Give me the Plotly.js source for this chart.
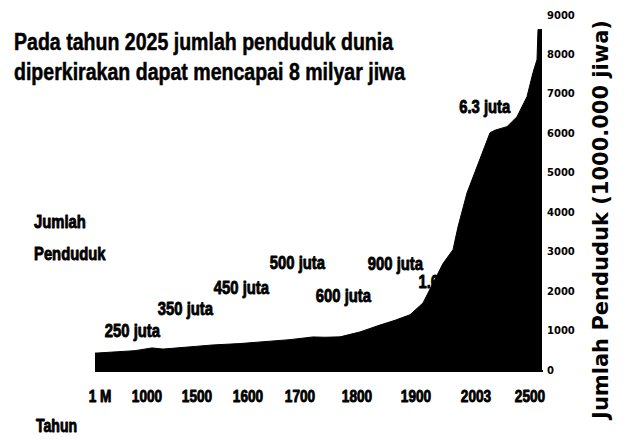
<!DOCTYPE html>
<html>
<head>
<meta charset="utf-8">
<script src="https://cdn.plot.ly/plotly-3.0.1.min.js"></script>
<style>html,body{margin:0;padding:0;background:#fff;}#chart{width:626px;height:440px;}</style>
</head>
<body>
<div id="chart"></div>
<script>
// Position along the (non-linear) time axis, in plot units
var tickPos = [5, 52, 102, 153, 205, 262, 321, 381, 435];
var tickLabels = ["1 M", "1000", "1500", "1600", "1700", "1800", "1900", "2003", "2500"];

// Population curve (millions)
var curveX = [0, 2, 40, 57, 68, 90, 118, 145, 168, 195, 218, 230, 245, 265, 285, 300, 315, 328, 338, 348, 358, 363, 372, 385, 395, 400, 412, 422, 432, 438, 442, 443, 447];
var curveY = [430, 430, 490, 560, 530, 580, 635, 670, 710, 770, 838, 830, 840, 965, 1140, 1260, 1400, 1700, 2200, 2700, 3050, 3630, 4490, 5330, 6015, 6080, 6170, 6420, 6930, 7540, 7870, 8630, 8630];

var yTicks = [0, 1000, 2000, 3000, 4000, 5000, 6000, 7000, 8000, 9000];

var labelTexts = ["250 juta", "350 juta", "450 juta", "500 juta", "600 juta", "900 juta", "6.3 juta"];
var labelX = [37, 90, 146, 202, 248, 300, 390];
var labelY = [990, 1570, 2090, 2725, 1890, 2700, 6680];

var hiddenLabel = ["1.6 juta"];
var hiddenX = [349];
var hiddenY = [2190];

var titleLines = ["Pada tahun 2025 jumlah penduduk dunia", "diperkirakan dapat mencapai 8 milyar jiwa"];
var sideLabels = ["Jumlah", "Penduduk", "Tahun"];
var yTitle = "Jumlah Penduduk (1000.000 jiwa)";

var sans = "Liberation Sans, Arial, sans-serif";
var labelFont = {family: sans, size: 19, weight: 700, color: "#000"};

var traces = [
  {
    x: hiddenX, y: hiddenY, text: hiddenLabel, mode: "text", type: "scatter",
    textfont: labelFont, hoverinfo: "skip", showlegend: false, cliponaxis: false
  },
  {
    x: curveX, y: curveY, type: "scatter", mode: "lines",
    fill: "tozeroy", fillcolor: "#000",
    line: {color: "#000", width: 1, shape: "linear"},
    hoverinfo: "skip", showlegend: false
  }
];

var annotations = labelTexts.map(function (t, i) {
  return {x: labelX[i], y: labelY[i], xref: "x", yref: "y", text: t, showarrow: false, font: labelFont};
});
var sideX = [-0.1406, -0.1406, -0.1362];
var sideY = [0.4197, 0.3268, -0.158];
var sideSize = [19, 19, 18];
sideLabels.forEach(function (t, i) {
  annotations.push({x: sideX[i], y: sideY[i], xref: "paper", yref: "paper", xanchor: "left", yanchor: "middle",
    align: "left", text: t, showarrow: false,
    font: {family: sans, size: sideSize[i], weight: 700, color: "#000"}});
});
var titleY = [0.924, 0.839];
titleLines.forEach(function (t, i) {
  annotations.push({x: -0.1853, y: titleY[i], xref: "paper", yref: "paper", xanchor: "left", yanchor: "middle",
    align: "left", text: t, showarrow: false, font: {family: sans, size: 23, weight: 700, color: "#000"}});
});
annotations.push({x: 1, xref: "paper", xanchor: "left", xshift: 44, y: 0.42, yref: "paper", yanchor: "middle",
  text: yTitle, textangle: -90, showarrow: false,
  font: {family: "DejaVu Sans, sans-serif", size: 21, weight: 700, color: "#000"}});

var layout = {
  width: 626, height: 440,
  margin: {l: 95, r: 83, t: 15, b: 70},
  paper_bgcolor: "#fff", plot_bgcolor: "#fff",
  xaxis: {
    range: [0, 448], tickvals: tickPos, ticktext: tickLabels,
    showgrid: false, zeroline: false, showline: true, linecolor: "#000", linewidth: 2,
    ticks: "", ticklabelstandoff: 10,
    tickfont: {family: sans, size: 17, weight: 700, color: "#000"}
  },
  yaxis: {
    side: "right", range: [0, 9000], tickvals: yTicks,
    showgrid: false, zeroline: false, showline: false, ticks: "",
    ticklabelstandoff: 3,
    tickfont: {family: "DejaVu Sans, sans-serif", size: 10, weight: 700, color: "#000"}
  },
  annotations: annotations,
  showlegend: false
};

// Narrow and thicken the glyphs (the original uses a heavy condensed face that is not installed)
function squeeze(el, f, w) {
  var L = el.getComputedTextLength();
  if (!L) return;
  el.setAttribute("textLength", (L * f).toFixed(1));
  el.setAttribute("lengthAdjust", "spacingAndGlyphs");
  el.style.stroke = "#000";
  el.style.strokeWidth = w + "px";
  el.style.strokeLinejoin = "round";
}

Plotly.newPlot("chart", traces, layout, {staticPlot: true, displayModeBar: false}).then(function () {
  document.querySelectorAll("#chart .annotation-text").forEach(function (t) {
    var txt = t.textContent;
    if (txt === yTitle) return;
    if (titleLines.indexOf(txt) >= 0) squeeze(t, 0.85, 0.5);
    else squeeze(t, 0.78, 0.9);
  });
  document.querySelectorAll("#chart .xtick text").forEach(function (t) { squeeze(t, 0.8, 0.9); });
  document.querySelectorAll("#chart .textpoint text").forEach(function (t) { squeeze(t, 0.78, 0.9); });
});
</script>
</body>
</html>
